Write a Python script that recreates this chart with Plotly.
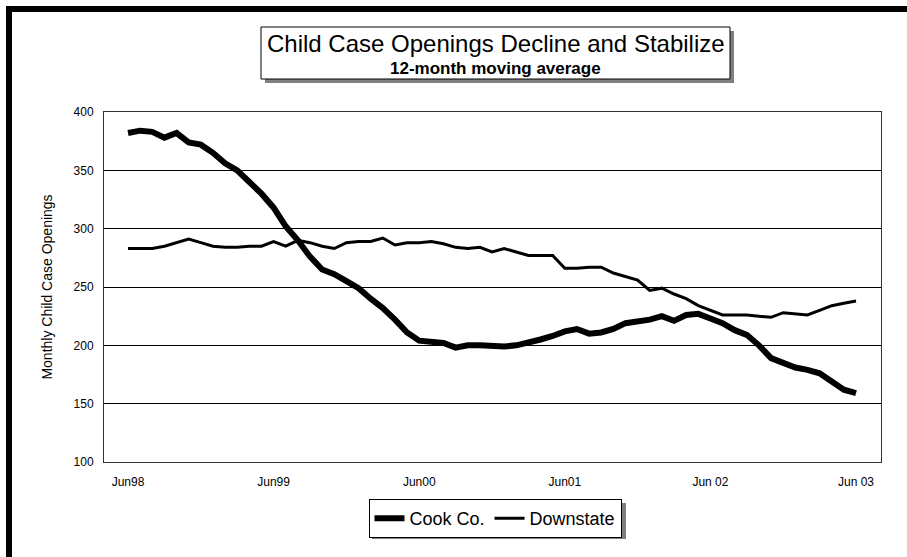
import plotly.graph_objects as go

# ---- data (12-month moving average, monthly Jun98 .. Jun03) ----
months = list(range(61))
cook = [382, 384, 383, 378, 382, 374, 372, 365, 356, 350,
        340, 330, 318, 302, 290, 276, 265, 261, 255, 249,
        240, 232, 222, 211, 204, 203, 202, 198, 200, 200,
        199, 199, 200, 202, 205, 208, 212, 214, 210, 211,
        214, 219, 220, 222, 225, 221, 226, 227, 223, 219,
        213, 209, 200, 189, 185, 181, 179, 176, 169, 162, 159]
downstate = [283, 283, 283, 285, 288, 291, 288, 285, 284, 284,
             285, 285, 289, 285, 290, 288, 285, 283, 288, 289,
             289, 292, 286, 288, 288, 289, 287, 284, 283, 284,
             280, 283, 280, 277, 277, 277, 266, 266, 267, 267,
             262, 259, 256, 247, 249, 244, 240, 234, 230, 226,
             226, 226, 225, 224, 228, 227, 226, 230, 234, 236, 238]
tick_months = [0, 12, 24, 36, 48, 60]
tick_labels = ["Jun98", "Jun99", "Jun00", "Jun01", "Jun 02", "Jun 03"]
y_ticks = [100, 150, 200, 250, 300, 350, 400]

W, H = 907, 557
L, R, T, B = 104, 26, 112, 95
PW, PH = W - L - R, H - T - B

def px(x):
    return (x - L) / PW

def py(y):
    return (H - B - y) / PH

FONT = "Liberation Sans, Arial, sans-serif"

fig = go.Figure()
fig.add_trace(go.Scatter(x=months, y=cook, mode="lines", name="Cook Co.",
                         line=dict(color="black", width=6)))
fig.add_trace(go.Scatter(x=months, y=downstate, mode="lines", name="Downstate",
                         line=dict(color="black", width=3)))

shapes = []
# outer chart frame (thick top / left edges)
shapes.append(dict(type="rect", xref="paper", yref="paper",
                   x0=px(6), x1=px(920), y0=py(6), y1=py(12),
                   fillcolor="black", line=dict(width=0), layer="above"))
shapes.append(dict(type="rect", xref="paper", yref="paper",
                   x0=px(6), x1=px(12), y0=py(6), y1=py(570),
                   fillcolor="black", line=dict(width=0), layer="above"))
# title box with shadow
tb = (261, 730, 27, 79)
shapes.append(dict(type="rect", xref="paper", yref="paper",
                   x0=px(tb[0] + 4), x1=px(tb[1] + 4), y0=py(tb[3] + 4), y1=py(tb[2] + 4),
                   fillcolor="#808080", line=dict(width=0)))
shapes.append(dict(type="rect", xref="paper", yref="paper",
                   x0=px(tb[0]), x1=px(tb[1]), y0=py(tb[3]), y1=py(tb[2]),
                   fillcolor="white", line=dict(color="black", width=1)))
# legend shadow
lb = (368, 622, 499, 535)
shapes.append(dict(type="rect", xref="paper", yref="paper",
                   x0=px(lb[0] + 4), x1=px(lb[1] + 4), y0=py(lb[3] + 4), y1=py(lb[2] + 4),
                   fillcolor="#808080", line=dict(width=0)))

annotations = [
    dict(text="Child Case Openings Decline and Stabilize", xref="paper", yref="paper",
         x=px((tb[0] + tb[1]) / 2), y=py(44), xanchor="center", yanchor="middle",
         showarrow=False, font=dict(family=FONT, size=24, color="black")),
    dict(text="<b>12-month moving average</b>", xref="paper", yref="paper",
         x=px((tb[0] + tb[1]) / 2), y=py(68), xanchor="center", yanchor="middle",
         showarrow=False, font=dict(family=FONT, size=17, color="black")),
]

fig.update_layout(
    width=W, height=H,
    margin=dict(l=L, r=R, t=T, b=B),
    paper_bgcolor="white", plot_bgcolor="white",
    font=dict(family=FONT, color="black"),
    showlegend=True,
    legend=dict(orientation="h", x=px((lb[0] + lb[1]) / 2), xanchor="center",
                y=py(lb[2]), yanchor="top", bgcolor="white",
                bordercolor="black", borderwidth=1,
                font=dict(family=FONT, size=18, color="black"),
                itemwidth=30, tracegroupgap=0),
    shapes=shapes,
    annotations=annotations,
    xaxis=dict(range=[-1.98, 62.06], tickvals=tick_months, ticktext=tick_labels,
               showgrid=False, zeroline=False, ticks="", ticklabelstandoff=9,
               showline=True, linecolor="#333333", linewidth=1, mirror=True,
               tickfont=dict(family=FONT, size=12, color="black")),
    yaxis=dict(range=[100, 400], tickvals=y_ticks, showgrid=True,
               gridcolor="black", gridwidth=1, zeroline=False, ticks="",
               ticklabelstandoff=7,
               showline=True, linecolor="#333333", linewidth=1, mirror=True,
               tickfont=dict(family=FONT, size=12, color="black")),
    title=None,
)
fig.update_yaxes(title=dict(text="Monthly Child Case Openings", standoff=17,
                            font=dict(family=FONT, size=14, color="black")))

fig.write_html("out.html")
